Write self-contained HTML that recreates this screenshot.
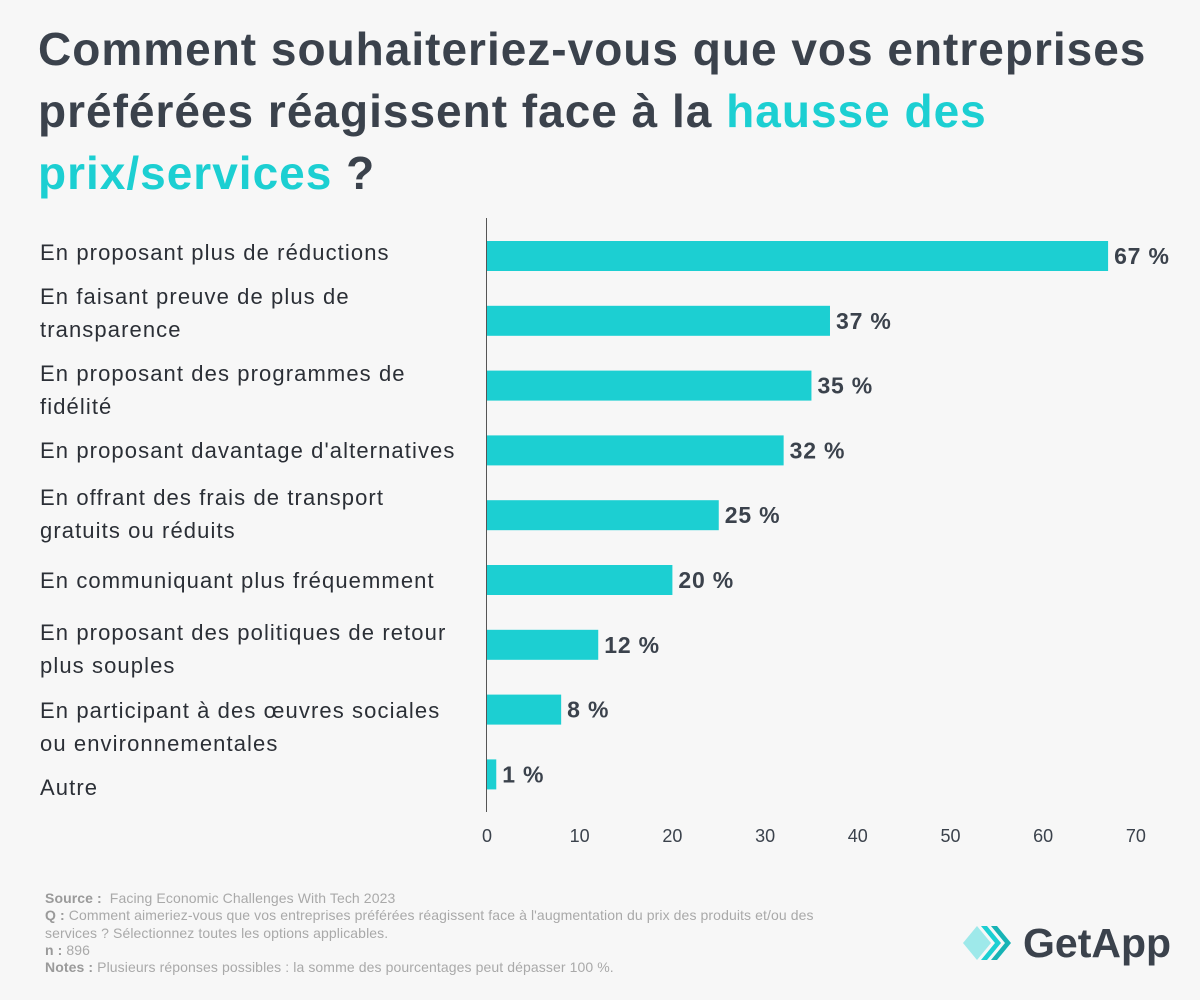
<!DOCTYPE html>
<html><head><meta charset="utf-8"><style>
body{margin:0;width:1200px;height:1000px;background:#f7f7f7;font-family:"Liberation Sans",sans-serif;position:relative;overflow:hidden}
#title{position:absolute;left:38px;top:18px;width:1160px;font-size:46px;letter-spacing:1px;font-weight:bold;line-height:62px;color:#3b424c;margin:0}
.hl{color:#1ccfd2}
.lab{position:absolute;left:40px;font-size:22px;letter-spacing:1.1px;line-height:33px;color:#2b2f36;white-space:nowrap}
#foot{position:absolute;left:45px;top:890px;font-size:14px;letter-spacing:0.1px;line-height:17.3px;color:#a9a9a9;white-space:nowrap}
#foot b{color:#9a9a9a}
</style></head><body>
<h1 id="title">Comment souhaiteriez-vous que vos entreprises préférées réagissent face à la <span class="hl">hausse des prix/services</span> ?</h1>
<div id="labels"></div>
<svg id="chart" width="1200" height="1000" style="position:absolute;left:0;top:0"></svg>
<div id="foot"><b>Source :</b>&nbsp; Facing Economic Challenges With Tech 2023<br><b>Q :</b> Comment aimeriez-vous que vos entreprises préférées réagissent face à l'augmentation du prix des produits et/ou des<br>services ? Sélectionnez toutes les options applicables.<br><b>n :</b> 896<br><b>Notes :</b> Plusieurs réponses possibles : la somme des pourcentages peut dépasser 100 %.</div>
<div style="position:absolute;left:963px;top:920px;width:220px;height:46px">
<svg width="60" height="46" style="position:absolute;left:0;top:0"><polygon points="14,6 28,23 14,40 0,23" fill="#9ee9ea"/><polygon points="24,6 38,23 24,40 18,40 32,23 18,6" fill="#1ccfd2"/><polygon points="34,6 48,23 34,40 28,40 42,23 28,6" fill="#17b3b5"/></svg>
<div style="position:absolute;left:60px;top:0;font-size:41px;font-weight:bold;color:#3b424c;line-height:46px">GetApp</div></div>
<script>
const categories=["En proposant plus de réductions","En faisant preuve de plus de<br>transparence","En proposant des programmes de<br>fidélité","En proposant davantage d'alternatives","En offrant des frais de transport<br>gratuits ou réduits","En communiquant plus fréquemment","En proposant des politiques de retour<br>plus souples","En participant à des œuvres sociales<br>ou environnementales","Autre"];
const values=[67,37,35,32,25,20,12,8,1];
const ticks=[0,10,20,30,40,50,60,70];
const x0=487,unit=9.27,y0=256,step=64.8,bh=30;
const labelShift=[-4,-24,-12,0,-18,0,-12,1,13];
const X=v=>x0+v*unit, Y=i=>y0+i*step;
const ns="http://www.w3.org/2000/svg",svg=document.getElementById('chart');
function mk(t,a){const e=document.createElementNS(ns,t);for(const k in a)e.setAttribute(k,a[k]);svg.appendChild(e);return e;}
const ax=mk('line',{x1:486.5,x2:486.5,y1:218,y2:812,stroke:'#555','stroke-width':1});


ticks.forEach(t=>{const e=mk('text',{x:X(t),y:842,'text-anchor':'middle','font-size':18,fill:'#3b424c','font-family':'Liberation Sans'});e.textContent=t;

});
const L=document.getElementById('labels');
values.forEach((v,i)=>{
const r=mk('rect',{x:X(0),y:Y(i)-bh/2,width:v*unit,height:bh,fill:'#1ccfd2'});


const t=mk('text',{x:X(v)+6,y:Y(i)+8,'font-size':23,'font-weight':'bold','letter-spacing':0.8,fill:'#3b424c','font-family':'Liberation Sans'});t.textContent=v+' %';


const d=document.createElement('div');d.className='lab';d.innerHTML=categories[i];
d.style.top=(Y(i)-16.5+labelShift[i])+'px';


L.appendChild(d);});
</script>
</body></html>
